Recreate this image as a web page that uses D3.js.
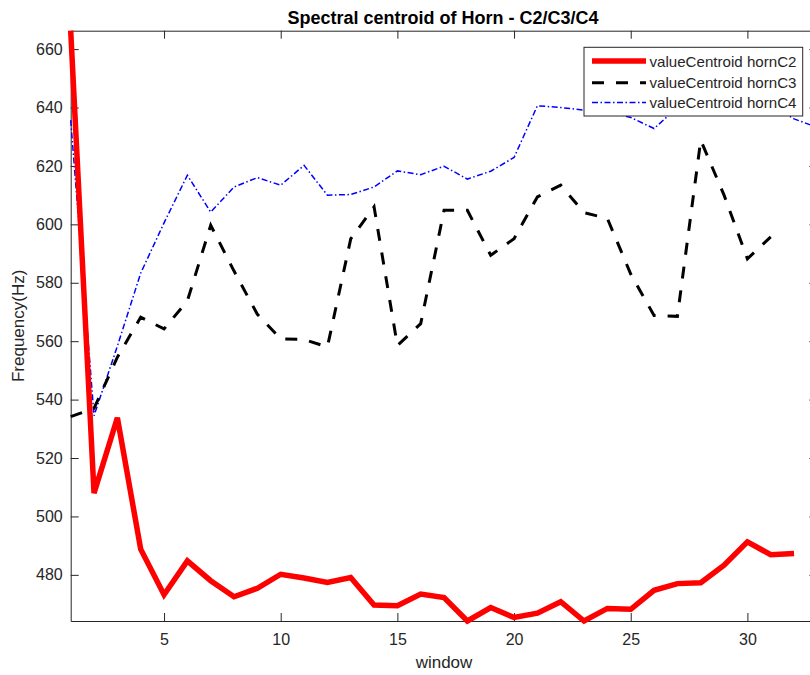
<!DOCTYPE html>
<html>
<head>
<meta charset="utf-8">
<script src="https://cdn.jsdelivr.net/npm/d3@7"></script>
<style>
  html, body { margin: 0; padding: 0; background: #fff; overflow: hidden; }
  svg { display: block; }
  text { font-family: "Liberation Sans", Arial, Helvetica, sans-serif; }
</style>
</head>
<body>
<svg id="chart" width="810" height="675"></svg>
<script>
// ---- data ----
const windowsC2 = d3.range(1, 33);   // 1..32
const valuesC2 = [666.3, 508.0, 533.8, 488.8, 473.2, 484.8, 478.0, 472.5, 475.4, 480.2,
                  478.9, 477.4, 479.1, 469.7, 469.4, 473.4, 472.2, 464.2, 468.8, 465.4,
                  466.9, 470.8, 464.2, 468.5, 468.2, 474.7, 477.0, 477.3, 483.3, 491.3,
                  486.9, 487.3];
const windowsC3 = d3.range(1, 32);   // 1..31
const valuesC3 = [534.2, 537.0, 554.5, 568.2, 564.2, 573.8, 599.7, 584.0, 569.2, 560.8,
                  560.6, 558.0, 595.0, 606.0, 558.5, 566.0, 604.8, 604.8, 589.4, 595.1,
                  609.4, 613.4, 604.0, 602.0, 583.0, 568.8, 568.5, 628.8, 610.0, 588.2,
                  595.7];
const windowsC4 = d3.range(1, 34);   // 1..33
const valuesC4 = [635.7, 534.5, 558.3, 583.3, 600.5, 616.8, 604.2, 612.8, 616.0, 613.4,
                  620.2, 610.0, 610.2, 612.8, 618.3, 617.0, 619.9, 615.5, 618.2, 622.9,
                  640.6, 640.0, 639.1, 638.6, 636.6, 632.8, 640.0, 642.5, 640.0, 643.5,
                  641.0, 636.1, 633.2];
const seriesNames = ["valueCentroid hornC2", "valueCentroid hornC3", "valueCentroid hornC4"];
const xTicks = [5, 10, 15, 20, 25, 30];
const yTicks = [480, 500, 520, 540, 560, 580, 600, 620, 640, 660];
const titleText = "Spectral centroid of Horn - C2/C3/C4";
const xLabel = "window";
const yLabel = "Frequency(Hz)";

// ---- layout ----
const svg = d3.select("#chart");
const pL = 70.7, pT = 30.7, pR = 817.4, pB = 621;
const axisColor = "#262626";

const x = d3.scaleLinear().domain([1, 33]).range([pL, pR]);
const y = d3.scaleLinear().domain([464.2, 666.3]).range([pB, pT]);

// axes box
const tickLen = 8;
const gx = svg.append("g").attr("transform", `translate(0,${pB})`)
  .call(d3.axisBottom(x).tickValues(xTicks).tickSizeInner(-tickLen).tickSizeOuter(0).tickPadding(13));
const gxTop = svg.append("g").attr("transform", `translate(0,${pT})`)
  .call(d3.axisTop(x).tickValues(xTicks).tickSizeInner(-tickLen).tickSizeOuter(0).tickFormat(""));
const gy = svg.append("g").attr("transform", `translate(${pL},0)`)
  .call(d3.axisLeft(y).tickValues(yTicks).tickSizeInner(-tickLen).tickSizeOuter(0).tickPadding(8));
const gyR = svg.append("g").attr("transform", `translate(${pR},0)`)
  .call(d3.axisRight(y).tickValues(yTicks).tickSizeInner(-tickLen).tickSizeOuter(0).tickFormat(""));

[gx, gxTop, gy, gyR].forEach(g => {
  g.select(".domain").attr("stroke", axisColor).attr("stroke-width", 1);
  g.selectAll(".tick line").attr("stroke", axisColor).attr("stroke-width", 1);
  g.selectAll(".tick text").attr("fill", axisColor).attr("font-size", 16)
    .attr("font-family", "'Liberation Sans', Arial, sans-serif");
});

// lines
const mk = (xs, vs) => xs.map((w, i) => [w, vs[i]]);
const line = d3.line().x(d => x(d[0])).y(d => y(d[1]));

svg.append("path").datum(mk(windowsC4, valuesC4))
  .attr("d", line).attr("fill", "none").attr("stroke", "#0000ff")
  .attr("stroke-width", 1.5).attr("stroke-dasharray", "6,2.5,1.5,2.5");
svg.append("path").datum(mk(windowsC3, valuesC3))
  .attr("d", line).attr("fill", "none").attr("stroke", "#000000")
  .attr("stroke-width", 3).attr("stroke-dasharray", "12,12");
svg.append("path").datum(mk(windowsC2, valuesC2))
  .attr("d", line).attr("fill", "none").attr("stroke", "#ff0000")
  .attr("stroke-width", 5.5).attr("stroke-linejoin", "miter");

// title and labels
svg.append("text").attr("x", 443).attr("y", 24).attr("text-anchor", "middle")
  .attr("font-size", 18).attr("font-weight", "bold").attr("fill", "#000").text(titleText);
svg.append("text").attr("x", 444).attr("y", 668).attr("text-anchor", "middle")
  .attr("font-size", 17).attr("fill", axisColor).text(xLabel);
svg.append("text").attr("transform", `translate(24,${(pT + pB) / 2}) rotate(-90)`)
  .attr("text-anchor", "middle").attr("font-size", 17).attr("fill", axisColor).text(yLabel);

// legend
const lg = svg.append("g");
lg.append("rect").attr("x", 584).attr("y", 47.3).attr("width", 218.7).attr("height", 68.7)
  .attr("fill", "#fff").attr("stroke", axisColor).attr("stroke-width", 1);
const legStyles = [
  {stroke: "#ff0000", w: 5.5, dash: null},
  {stroke: "#000000", w: 3, dash: "12,12"},
  {stroke: "#0000ff", w: 1.5, dash: "6,2.5,1.5,2.5"}
];
const legY = [61, 82.7, 102.5];
seriesNames.forEach((name, i) => {
  const s = legStyles[i];
  const ln = lg.append("line").attr("x1", 592).attr("x2", 646).attr("y1", legY[i]).attr("y2", legY[i])
    .attr("stroke", s.stroke).attr("stroke-width", s.w);
  if (s.dash) ln.attr("stroke-dasharray", s.dash);
  lg.append("text").attr("x", 649.5).attr("y", legY[i] + 5.5).attr("font-size", 15)
    .attr("textLength", 147).attr("lengthAdjust", "spacingAndGlyphs")
    .attr("fill", axisColor).text(name);
});
</script>
</body>
</html>
